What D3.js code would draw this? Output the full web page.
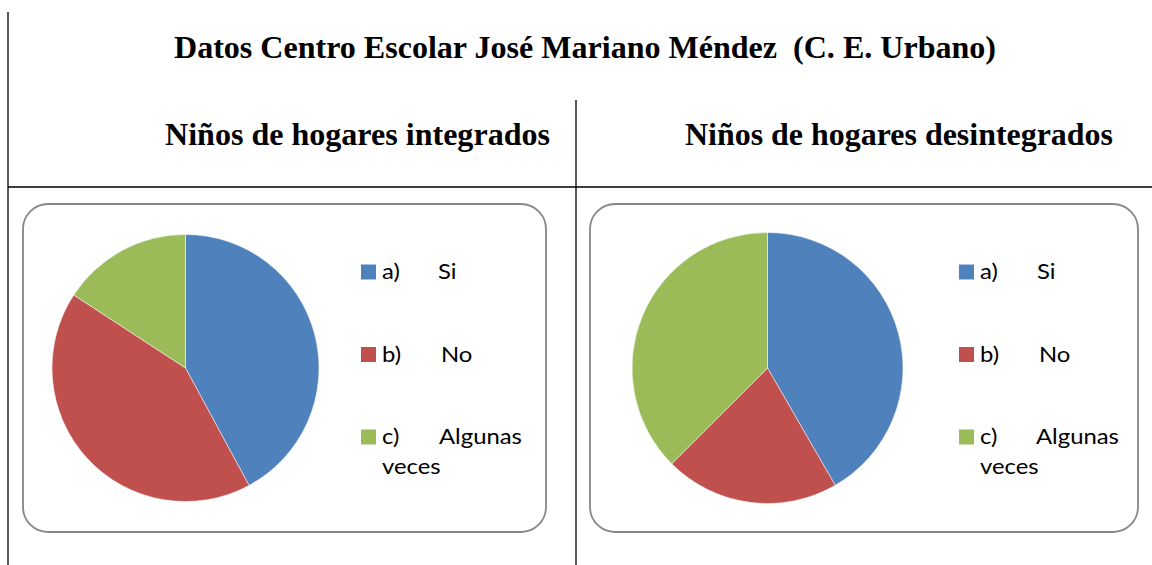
<!DOCTYPE html>
<html>
<head>
<meta charset="utf-8">
<script src="https://cdn.jsdelivr.net/npm/d3@7"></script>
<style>
  body { margin: 0; background: #fff; }
  svg { display: block; }
</style>
</head>
<body>
<svg id="chart" width="1152" height="565"></svg>
<script>
// categories and values (counts)
var categories = ["a)", "b)", "c)"];
var catLabels = ["Si", "No", "Algunas"];
var integrados = [8, 8, 3];
var desintegrados = [10, 5, 9];
var sliceColors = ["#4F81BD", "#C0504D", "#9BBB59"];

var titleText = "Datos Centro Escolar José Mariano Méndez  (C. E. Urbano)";
var subTitles = ["Niños de hogares integrados", "Niños de hogares desintegrados"];

var svg = d3.select("#chart");
var serif = "'Liberation Serif', 'Times New Roman', serif";
var sans = "Lato, Carlito, Calibri, sans-serif";

// table lines
svg.append("line").attr("x1", 8).attr("y1", 12).attr("x2", 8).attr("y2", 565)
   .attr("stroke", "#000").attr("stroke-width", 1.3);
svg.append("line").attr("x1", 576).attr("y1", 100).attr("x2", 576).attr("y2", 565)
   .attr("stroke", "#000").attr("stroke-width", 1.3);
svg.append("line").attr("x1", 8).attr("y1", 187).attr("x2", 1152).attr("y2", 187)
   .attr("stroke", "#000").attr("stroke-width", 1.3);

// title and column headers (the scan is a bit wider than the font, so stretch to fit)
function header(x, y, str, len) {
  svg.append("text")
     .attr("x", x).attr("y", y)
     .attr("font-family", serif)
     .attr("font-weight", "bold")
     .attr("font-size", 30.5)
     .attr("xml:space", "preserve")
     .attr("textLength", len)
     .attr("lengthAdjust", "spacingAndGlyphs")
     .text(str);
}
header(174, 57.5, titleText, 822);
header(165, 144.5, subTitles[0], 385);
header(685, 144.5, subTitles[1], 428);

var panels = [
  {box: [23, 204, 523, 328], cx: 185.5, cy: 368, r: 133.5, legX: 361, lblX: [77, 80, 78], values: integrados},
  {box: [590, 204, 548, 328], cx: 767.5, cy: 368, r: 135.5, legX: 959, lblX: [78, 80, 77], values: desintegrados}
];

var pie = d3.pie().sort(null).value(function(d) { return d; });
var color = d3.scaleOrdinal().domain(categories).range(sliceColors);
var legendY = d3.scalePoint().domain(categories).range([272, 437]);

// horizontal stretch for legend text, from the width of "Algunas"
var probe = svg.append("text").attr("font-family", sans).attr("font-size", 21).text("Algunas");
var sx = 83 / probe.node().getComputedTextLength();
probe.remove();

function label(g, x, y, str) {
  g.append("text")
   .attr("transform", "translate(" + x + "," + y + ") scale(" + sx + ",1)")
   .attr("font-family", sans)
   .attr("font-size", 21)
   .attr("fill", "#000")
   .text(str);
}

panels.forEach(function(p) {
  var g = svg.append("g");

  g.append("rect")
   .attr("x", p.box[0]).attr("y", p.box[1])
   .attr("width", p.box[2]).attr("height", p.box[3])
   .attr("rx", 25).attr("ry", 25)
   .attr("fill", "#fff")
   .attr("stroke", "#868686").attr("stroke-width", 1.8);

  var arc = d3.arc().innerRadius(0).outerRadius(p.r);
  g.append("g")
   .attr("transform", "translate(" + p.cx + "," + p.cy + ")")
   .selectAll("path")
   .data(pie(p.values))
   .enter().append("path")
   .attr("d", arc)
   .attr("fill", function(d, i) { return color(categories[i]); })
   .attr("stroke", "#fff").attr("stroke-width", 0.5);

  // legend
  categories.forEach(function(c, i) {
    var y = legendY(c);
    g.append("rect")
     .attr("x", p.legX).attr("y", y - 7.5)
     .attr("width", 15).attr("height", 15)
     .attr("fill", color(c));
    label(g, p.legX + 21, y + 7, c);
    label(g, p.legX + p.lblX[i], y + 7, catLabels[i]);
    if (i == 2) label(g, p.legX + 21, y + 37, "veces");
  });
});
</script>
</body>
</html>
